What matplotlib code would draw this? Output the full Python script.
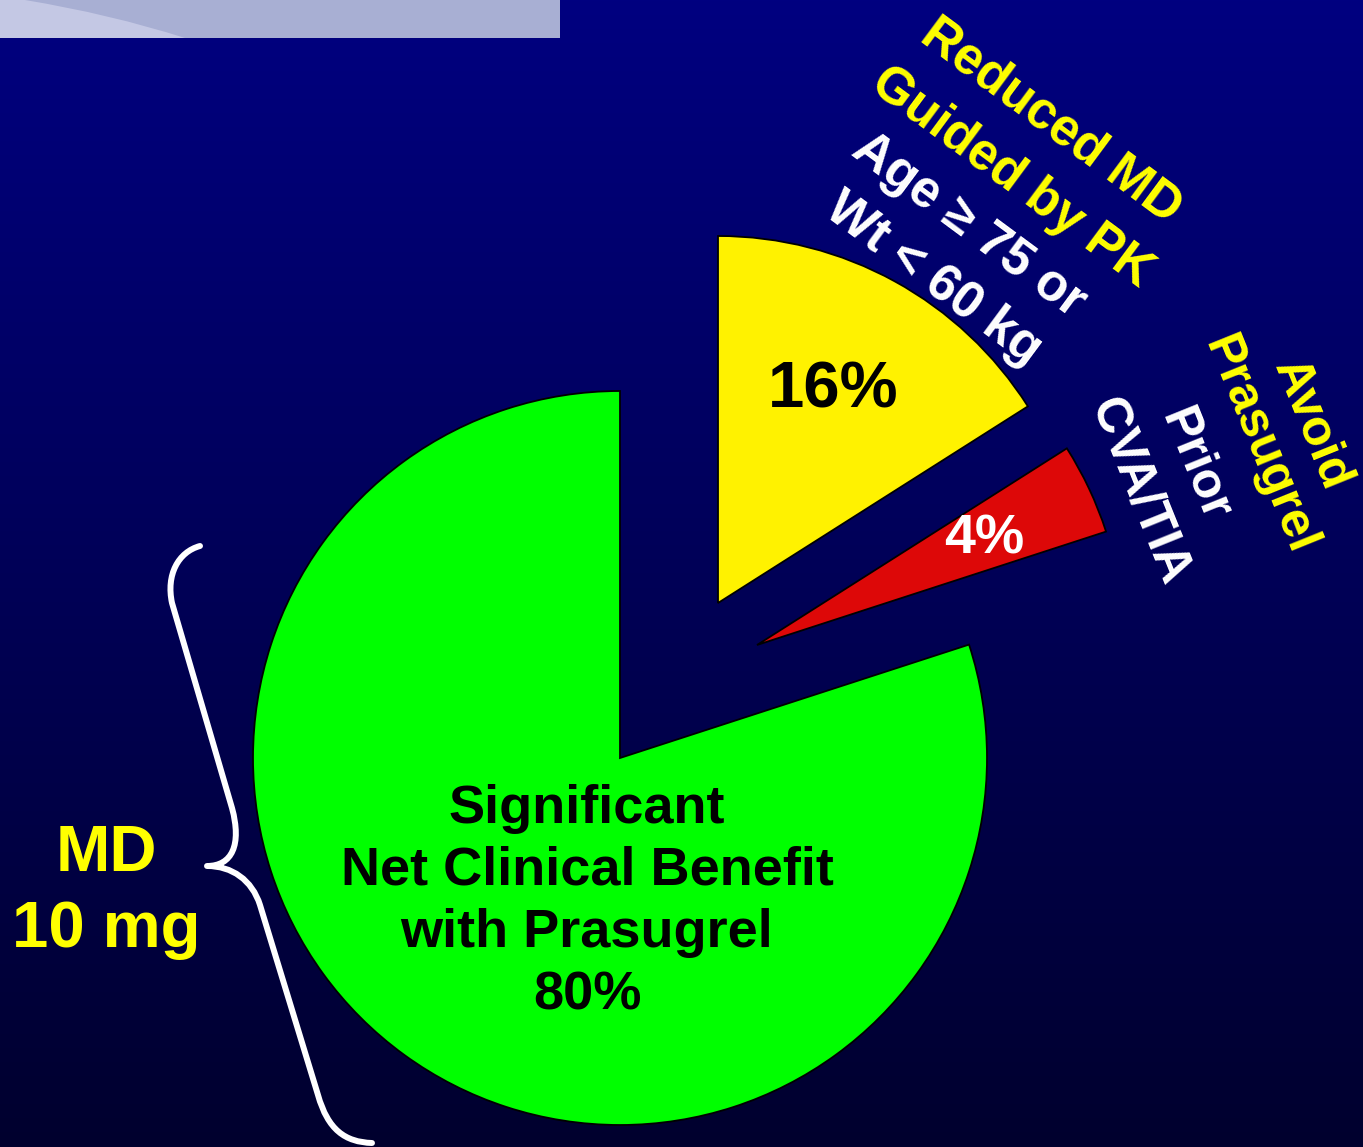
import numpy as np
import matplotlib
matplotlib.use("Agg")
import matplotlib.pyplot as plt
from matplotlib.path import Path
from matplotlib.patches import PathPatch, Rectangle

# ---- data -------------------------------------------------------------
shares = [16, 4, 80]                      # percent of patients
slice_colors = ["#FFF200", "#DD0808", "#00FF00"]
pct_colors = ["black", "white", "black"]
green_caption = ["Significant", "Net Clinical Benefit", "with Prasugrel"]
yellow_head = ["Reduced MD", "Guided by PK"]
yellow_sub = ["Age \u2265 75 or", "Wt < 60 kg"]
red_head = ["Avoid", "Prasugrel"]
red_sub = ["Prior", "CVA/TIA"]
dose_label = ["MD", "10 mg"]

# ---- canvas (pixel-based coordinates, y measured from the top) --------
W, H = 1363, 1147
FONT = ["Liberation Sans", "DejaVu Sans"]
YEL = "#FFFF00"


def Y(y):
    return H - y


fig = plt.figure(figsize=(W / 100, H / 100), dpi=100)
ax = fig.add_axes([0, 0, 1, 1])

# navy background fading towards the bottom
top, bot = np.array([0, 0, 128]) / 255, np.array([0, 0, 46]) / 255
t = np.linspace(0, 1, 400)[:, None, None]
grad = top * (1 - t) + bot * t
ax.imshow(grad, extent=(0, W, 0, H), aspect="auto", origin="upper", zorder=0)

# pale title band with a light swoosh at its left end
ax.add_patch(Rectangle((0, Y(38)), 560, 38, facecolor="#A8AFD3", edgecolor="none", zorder=1))
sw = Path([(0, Y(0)), (25, Y(0)), (110, Y(14)), (185, Y(38)), (0, Y(38)), (0, Y(0))],
          [Path.MOVETO, Path.LINETO, Path.CURVE3, Path.CURVE3, Path.LINETO, Path.CLOSEPOLY])
ax.add_patch(PathPatch(sw, facecolor="#C4C8E4", edgecolor="none", zorder=1))

# ---- pie --------------------------------------------------------------
R = 367
wedges, _ = ax.pie(shares, colors=slice_colors, startangle=90, counterclock=False,
                   radius=R, center=(620, Y(758)),
                   wedgeprops=dict(edgecolor="black", linewidth=1.3))
for w in wedges:
    w.set_zorder(2)
wedges[0].set_center((718, Y(603)))
wedges[1].set_center((757, Y(645)))

ax.text(833, Y(390), f"{shares[0]}%", fontsize=47, fontweight="bold", family=FONT,
        color=pct_colors[0], ha="center", va="center", zorder=3)
ax.text(984, Y(540), f"{shares[1]}%", fontsize=40, fontweight="bold", family=FONT,
        color=pct_colors[1], ha="center", va="center", zorder=3)
ax.text(587, Y(902), "\n".join(green_caption + [f"{shares[2]}%"]), fontsize=39,
        fontweight="bold", family=FONT, color=pct_colors[2], ha="center", va="center",
        linespacing=1.31, zorder=3)

# ---- rotated annotations ----------------------------------------------
def line(txt, x, y, rot, color, size):
    ax.text(x, Y(y), txt, rotation=rot, rotation_mode="anchor", fontsize=size,
            fontweight="bold", family=FONT, color=color, ha="center", va="center", zorder=3)


line(yellow_head[0], 1051, 121, -36.5, YEL, 37)
line(yellow_head[1], 1012, 177, -36.5, YEL, 37)
line(yellow_sub[0], 969, 226, -36.5, "white", 37)
line(yellow_sub[1], 933, 279, -36.5, "white", 37)

line(red_head[0], 1311, 425, -68, YEL, 36)
line(red_head[1], 1259, 445, -68, YEL, 36)
line(red_sub[0], 1195, 465, -68, "white", 36)
line(red_sub[1], 1139, 491, -68, "white", 36)

# ---- brace and dose label ---------------------------------------------
pts = [(200, 546), (178, 552), (166, 575), (172, 603),
       (232, 808),
       (242, 845), (232, 866), (207, 866),
       (232, 866), (252, 880), (260, 905),
       (318, 1095),
       (328, 1130), (345, 1142), (372, 1143)]
codes = [Path.MOVETO, Path.CURVE4, Path.CURVE4, Path.CURVE4,
         Path.LINETO,
         Path.CURVE4, Path.CURVE4, Path.CURVE4,
         Path.CURVE4, Path.CURVE4, Path.CURVE4,
         Path.LINETO,
         Path.CURVE4, Path.CURVE4, Path.CURVE4]
brace = Path([(x, Y(y)) for x, y in pts], codes)
ax.add_patch(PathPatch(brace, facecolor="none", edgecolor="white", linewidth=4.3,
                       capstyle="round", joinstyle="round", zorder=3))

ax.text(106, Y(892), "\n".join(dose_label), fontsize=47, fontweight="bold", family=FONT,
        color=YEL, ha="center", va="center", linespacing=1.32, zorder=3)

ax.set_xlim(0, W)
ax.set_ylim(0, H)
ax.set_aspect("equal")
ax.axis("off")
fig.savefig("out.png", dpi=100)
